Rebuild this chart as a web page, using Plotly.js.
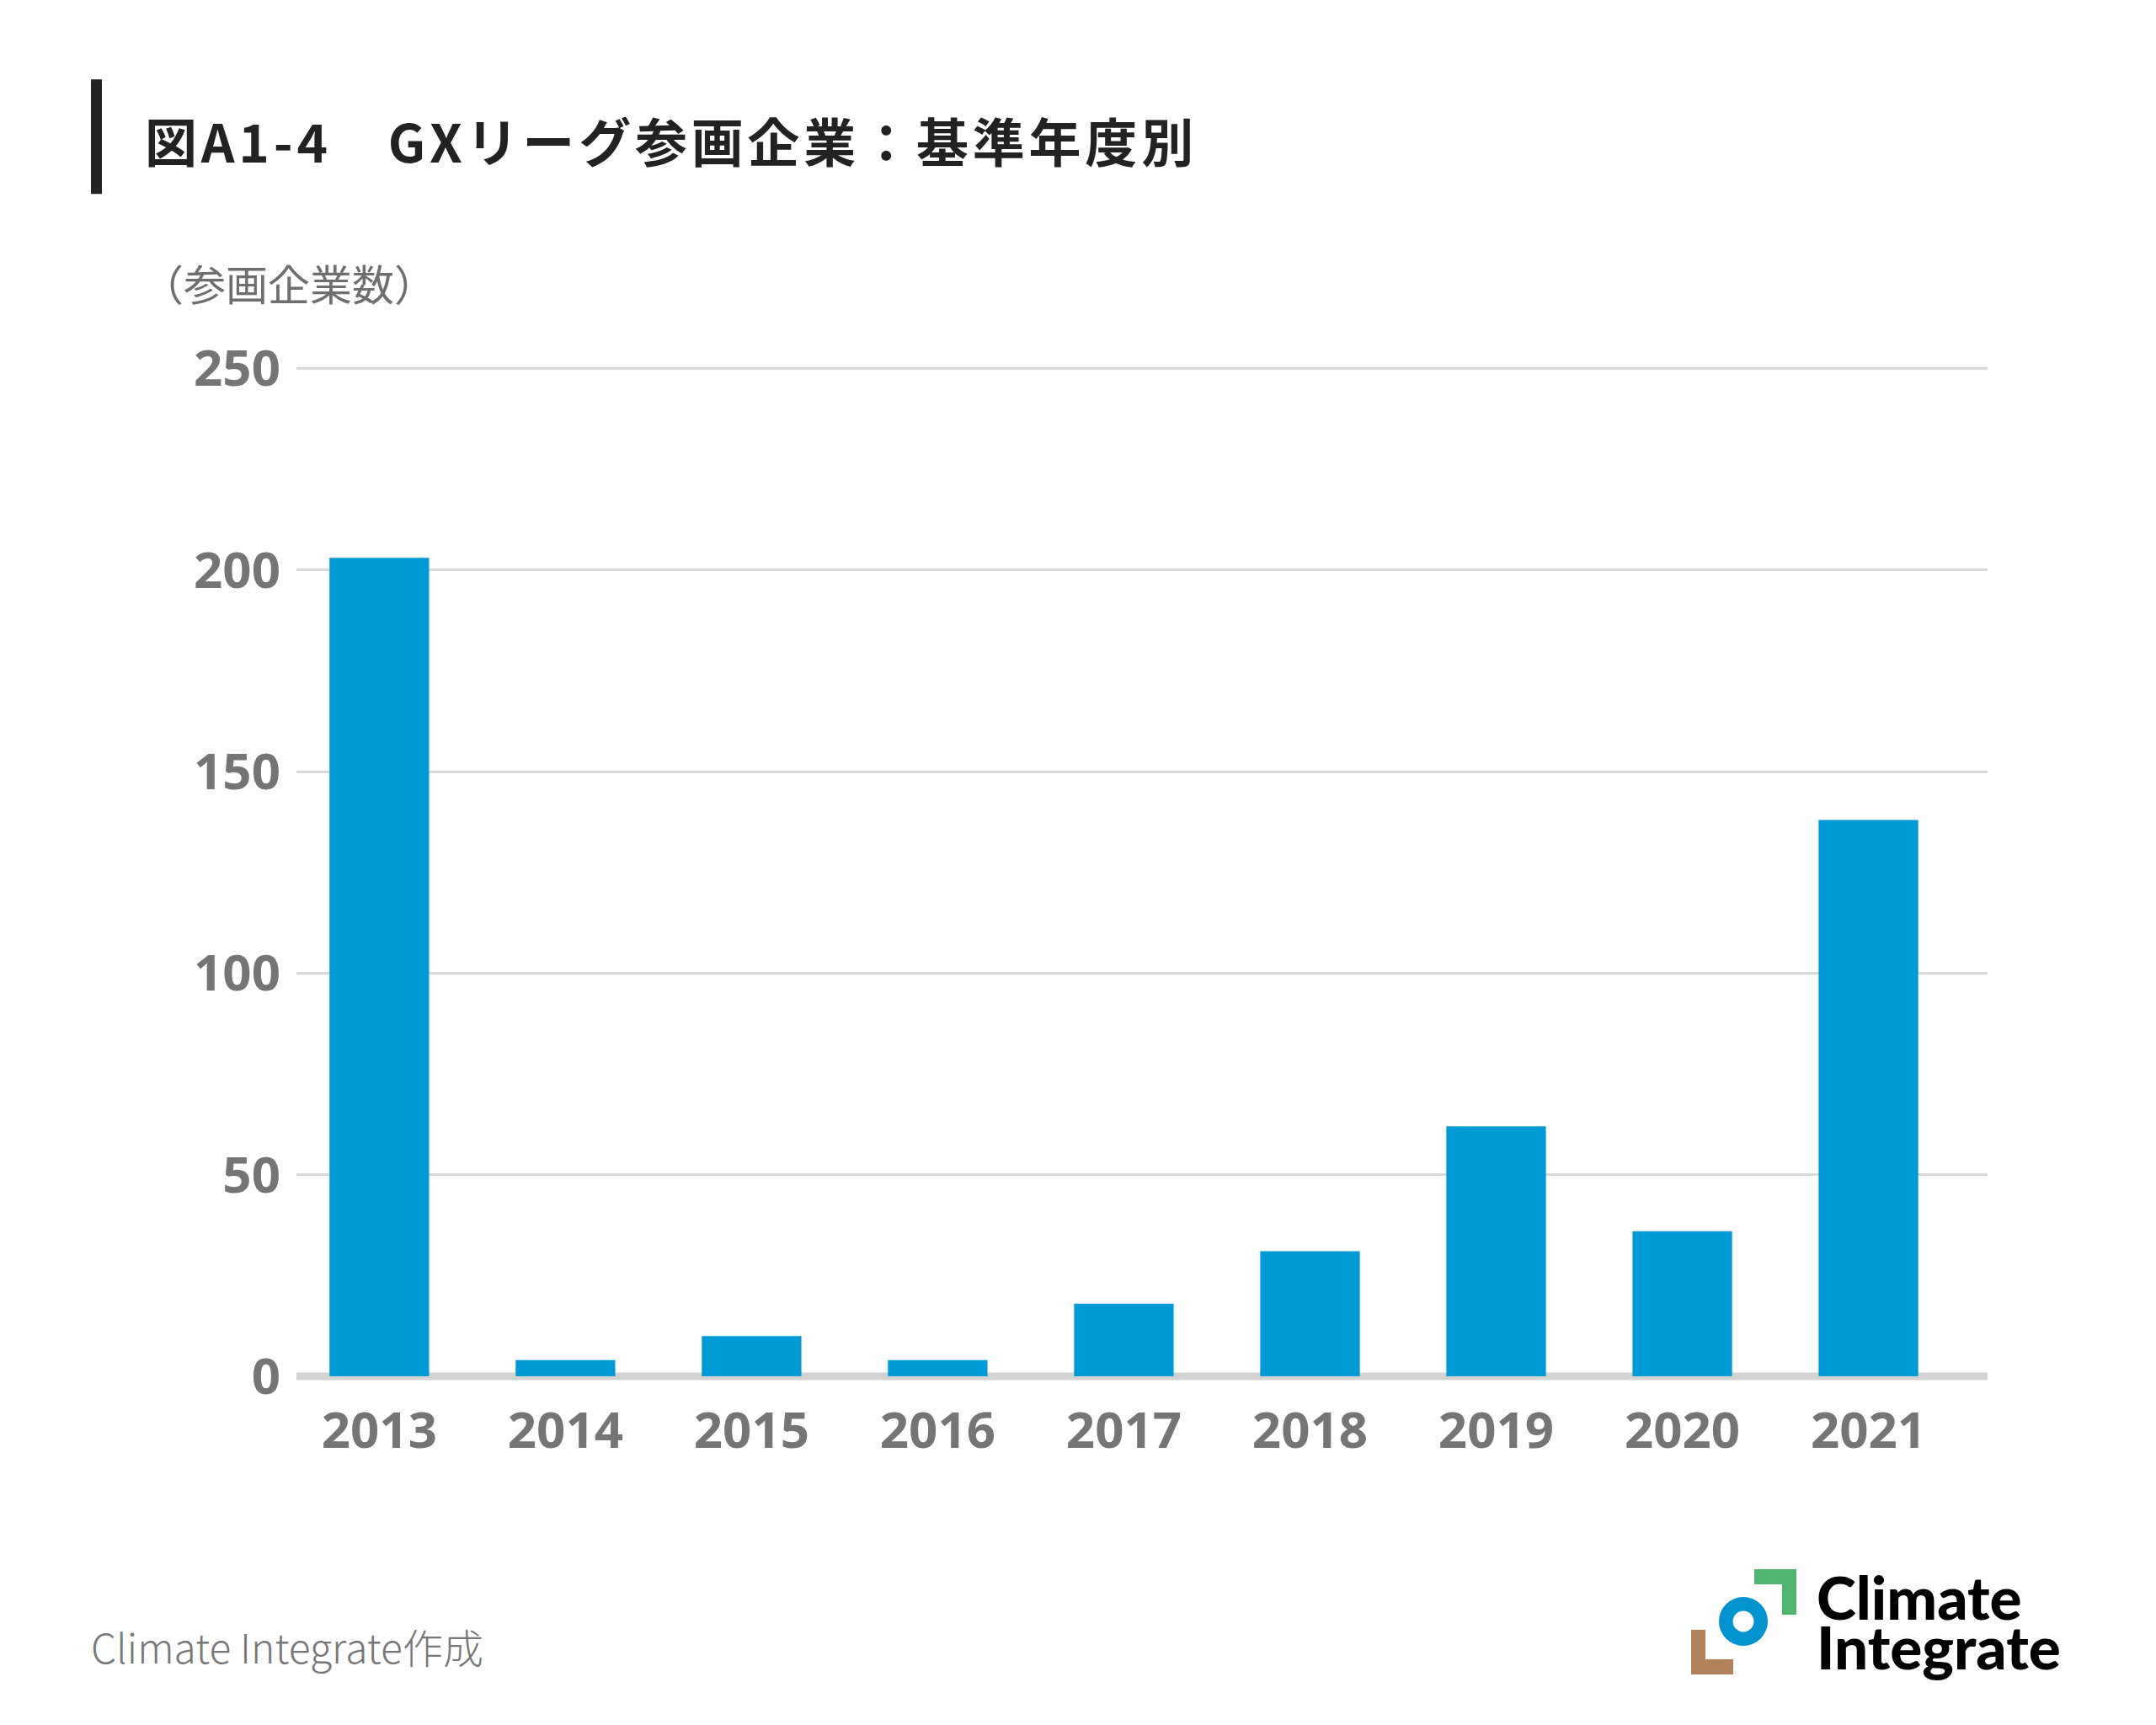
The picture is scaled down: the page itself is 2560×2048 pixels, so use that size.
<!DOCTYPE html>
<html>
<head>
<meta charset="utf-8">
<script src="https://cdn.plot.ly/plotly-3.0.1.min.js"></script>
<style>
  html, body { margin: 0; padding: 0; background: #ffffff; }
  #chart { width: 2560px; height: 2048px; }
</style>
</head>
<body>
<div id="chart"></div>
<script>
// ---- data ----
const years = ['2013', '2014', '2015', '2016', '2017', '2018', '2019', '2020', '2021'];
const companies = [203, 4, 10, 4, 18, 31, 62, 36, 138];
const yTickValues = [0, 50, 100, 150, 200, 250];
const yTickLabels = ['0', '50', '100', '150', '200', '250'];

const titleText = '図A1-4　GXリーグ参画企業：基準年度別';
const yAxisTitle = '（参画企業数）';
const sourceText = 'Climate Integrate作成';
const logoLine1 = 'Climate';
const logoLine2 = 'Integrate';

// ---- layout geometry (pixels) ----
const W = 2560, H = 2048;
const plotLeft = 352, plotRight = 2360;
const zeroY = 1634;
const pxPerUnit = 4.787;
const yMax = 250.5;
const plotH = pxPerUnit * yMax;
const mT = zeroY - plotH;
const mB = H - zeroY;
const mL = plotLeft, mR = W - plotRight;
const plotW = plotRight - plotLeft;

function px2x(px) { return (px - plotLeft) / plotW; }
function px2y(py) { return (zeroY - py) / plotH; }

const barColor = '#009AD6';
const tickColor = '#757575';

const trace = {
  type: 'bar',
  x: years,
  y: companies,
  marker: { color: barColor, line: { width: 0 } },
  width: 0.535,
  hoverinfo: 'x+y'
};

const shapes = [
  // baseline (thick grey axis line centred on zero, drawn beneath bars)
  { type: 'line', xref: 'paper', yref: 'paper', x0: 0, x1: 1, y0: 0, y1: 0,
    line: { color: '#D3D3D3', width: 9 }, layer: 'below' },
  // title bar
  { type: 'rect', xref: 'paper', yref: 'paper', x0: px2x(108), x1: px2x(121), y0: px2y(230), y1: px2y(94),
    fillcolor: '#222222', line: { width: 0 }, layer: 'above' },
  // logo: green bracket (top-right)
  { type: 'rect', xref: 'paper', yref: 'paper', x0: px2x(2083), x1: px2x(2133), y0: px2y(1881), y1: px2y(1863),
    fillcolor: '#52B56F', line: { width: 0 } },
  { type: 'rect', xref: 'paper', yref: 'paper', x0: px2x(2116), x1: px2x(2133), y0: px2y(1917), y1: px2y(1863),
    fillcolor: '#52B56F', line: { width: 0 } },
  // logo: brown bracket (bottom-left)
  { type: 'rect', xref: 'paper', yref: 'paper', x0: px2x(2008), x1: px2x(2025), y0: px2y(1988), y1: px2y(1935),
    fillcolor: '#B38159', line: { width: 0 } },
  { type: 'rect', xref: 'paper', yref: 'paper', x0: px2x(2008), x1: px2x(2058), y0: px2y(1988), y1: px2y(1970),
    fillcolor: '#B38159', line: { width: 0 } },
  // logo: blue ring
  { type: 'circle', xref: 'paper', yref: 'paper', x0: px2x(2070 - 29), x1: px2x(2070 + 29), y0: px2y(1925 + 29), y1: px2y(1925 - 29),
    fillcolor: '#0093D0', line: { width: 0 } },
  { type: 'circle', xref: 'paper', yref: 'paper', x0: px2x(2070 - 12.5), x1: px2x(2070 + 12.5), y0: px2y(1925 + 12.5), y1: px2y(1925 - 12.5),
    fillcolor: '#FFFFFF', line: { width: 0 } }
];

const annotations = [
  { text: '<b><span style="letter-spacing:4.8px">' + titleText + '</span></b>', xref: 'paper', yref: 'paper',
    x: px2x(170), y: px2y(166), xanchor: 'left', yanchor: 'middle', showarrow: false,
    font: { family: 'Noto Sans CJK JP', size: 62, color: '#222222' } },
  { text: yAxisTitle, xref: 'paper', yref: 'paper',
    x: px2x(166), y: px2y(335), xanchor: 'left', yanchor: 'middle', showarrow: false,
    font: { family: 'Noto Sans CJK JP', size: 50, color: '#6E6E6E' } },
  { text: sourceText, xref: 'paper', yref: 'paper',
    x: px2x(106), y: px2y(1954), xanchor: 'left', yanchor: 'middle', showarrow: false,
    font: { family: 'Noto Sans CJK JP', size: 48, color: '#777777', weight: 300 } },
  { text: logoLine1, xref: 'paper', yref: 'paper',
    x: px2x(2155), y: px2y(1896), xanchor: 'left', yanchor: 'middle', showarrow: false,
    font: { family: 'Lato', size: 71, color: '#000000', weight: 900 } },
  { text: logoLine2, xref: 'paper', yref: 'paper',
    x: px2x(2155), y: px2y(1955), xanchor: 'left', yanchor: 'middle', showarrow: false,
    font: { family: 'Lato', size: 71, color: '#000000', weight: 900 } }
];

const layout = {
  width: W, height: H,
  margin: { l: mL, r: mR, t: mT, b: mB, pad: 0 },
  paper_bgcolor: '#FFFFFF',
  plot_bgcolor: 'rgba(0,0,0,0)',
  showlegend: false,
  xaxis: {
    type: 'category',
    range: [-0.445, 8.64],
    showgrid: false,
    zeroline: false,
    showline: false,
    ticks: '',
    ticklabelstandoff: 24,
    tickfont: { family: 'Noto Sans', size: 60, color: tickColor, weight: 'bold' },
    fixedrange: true
  },
  yaxis: {
    range: [0, yMax],
    tickmode: 'array',
    tickvals: yTickValues,
    ticktext: yTickLabels,
    showgrid: true,
    gridcolor: '#D9D9D9',
    gridwidth: 3,
    zeroline: false,
    showline: false,
    ticks: '',
    ticklabelstandoff: 18,
    tickfont: { family: 'Noto Sans', size: 60, color: tickColor, weight: 'bold' },
    fixedrange: true
  },
  shapes: shapes,
  annotations: annotations
};

Plotly.newPlot('chart', [trace], layout, { displayModeBar: false, staticPlot: true });
</script>
</body>
</html>
